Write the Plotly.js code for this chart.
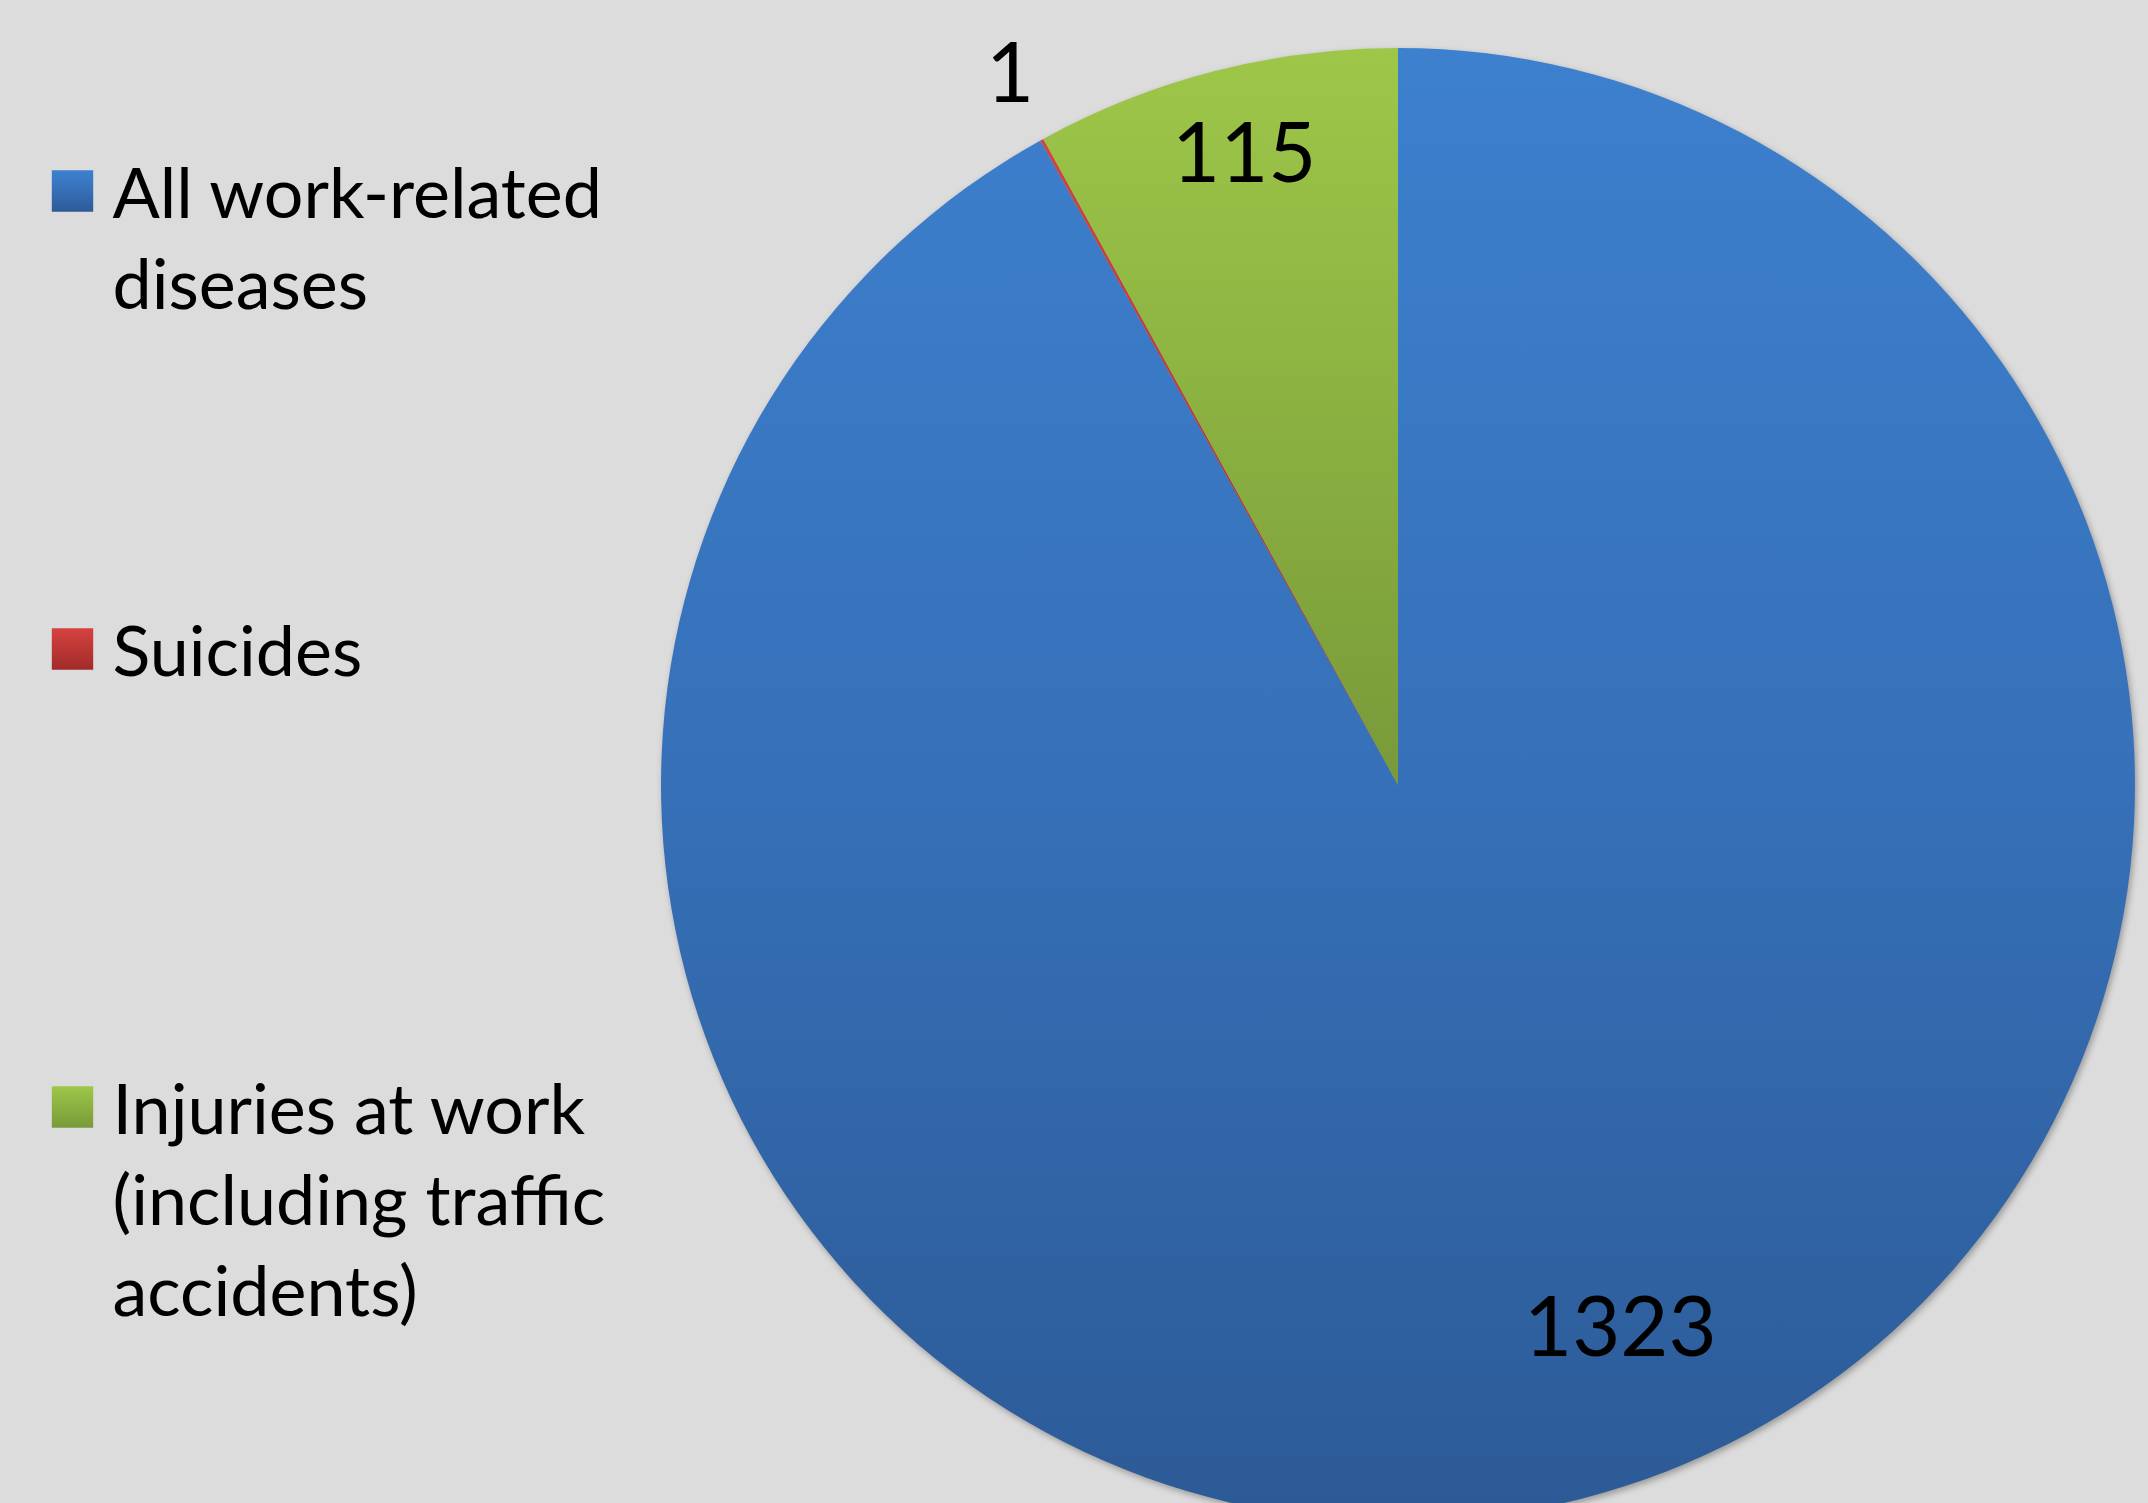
<!DOCTYPE html>
<html>
<head>
<meta charset="utf-8">
<script src="https://cdn.plot.ly/plotly-3.0.1.min.js"></script>
<style>
  html, body { margin: 0; padding: 0; overflow: hidden; background: #dcdcdc; }
  #chart { width: 2148px; height: 1530px; }
  .pielayer { filter: drop-shadow(2px 3px 3px rgba(0,0,0,0.30)); }
</style>
</head>
<body>
<div id="chart"></div>
<script>
// ---- data ----
const categories = ['All work-related<br>diseases', 'Suicides', 'Injuries at work<br>(including traffic<br>accidents)'];
const values = [1323, 1, 115];
const baseColors = ['#3673bb', '#c0393a', '#8cb141'];
const gradientStops = [
  [['0%', '#3d80ce'], ['50%', '#3670b8'], ['100%', '#2c5a96']],
  [['0%', '#d6423f'], ['100%', '#a02b29']],
  [['0%', '#9ec749'], ['100%', '#789a39']]
];

// ---- label styling (radial distance as fraction of radius, pixel nudges) ----
const labelRadius = [0.80, 1.10, 0.88];
const labelShift = [[75, 32], [4, 5], [7, 7]];

// legend items share equal height (5 text lines each)
const LINES_PER_ITEM = 5;
const legendLabels = categories.map(function (c, idx) {
  const n = c.split('<br>').length;
  let s = c;
  if (idx < categories.length - 1) {
    for (let k = n; k < LINES_PER_ITEM; k++) s += '<br>\u00a0';
  }
  return s;
});

const FONT = 'Lato, "Open Sans", sans-serif';
const H = 1530;

// value labels placed at each slice's mid-angle (clockwise from 12 o'clock)
const total = values.reduce(function (a, b) { return a + b; }, 0);
let cum = 0;
const annotations = values.map(function (v, i) {
  const mid = (cum + v / 2) / total * 2 * Math.PI;
  cum += v;
  return {
    xref: 'paper', yref: 'paper',
    x: 0.5 + 0.5 * labelRadius[i] * Math.sin(mid),
    y: 0.5 + 0.5 * labelRadius[i] * Math.cos(mid),
    xshift: labelShift[i][0], yshift: labelShift[i][1],
    xanchor: 'center', yanchor: 'middle',
    text: String(v),
    showarrow: false,
    font: { family: FONT, size: 83, color: '#000000' }
  };
});

const trace = {
  type: 'pie',
  labels: legendLabels,
  values: values,
  sort: false,
  direction: 'clockwise',
  rotation: 0,
  marker: { colors: baseColors, line: { width: 0 } },
  textinfo: 'none',
  automargin: false,
  hoverinfo: 'none'
};

const layout = {
  width: 2148,
  height: H,
  paper_bgcolor: '#dcdcdc',
  plot_bgcolor: '#dcdcdc',
  margin: { l: 661, r: 13, t: 48, b: H - 48 - 1474, autoexpand: false },
  showlegend: true,
  legend: {
    xref: 'container', yref: 'container',
    x: 32.5 / 2148, y: 1 - 139 / H,
    xanchor: 'left', yanchor: 'top',
    valign: 'top',
    itemwidth: 70,
    maxheight: 1450,
    bgcolor: 'rgba(0,0,0,0)',
    borderwidth: 0,
    font: { family: FONT, size: 70, color: '#000000' },
    itemclick: false, itemdoubleclick: false
  },
  annotations: annotations,
  font: { family: FONT, color: '#000000' }
};

const gd = document.getElementById('chart');
Plotly.newPlot(gd, [trace], layout, { displayModeBar: false, staticPlot: true }).then(function () {
  const NS = 'http://www.w3.org/2000/svg';
  const svg = gd.querySelector('svg.main-svg');
  let defs = svg.querySelector('defs');
  if (!defs) { defs = document.createElementNS(NS, 'defs'); svg.insertBefore(defs, svg.firstChild); }
  gradientStops.forEach(function (stops, i) {
    const g = document.createElementNS(NS, 'linearGradient');
    g.setAttribute('id', 'sliceGrad' + i);
    g.setAttribute('x1', '0'); g.setAttribute('y1', '0');
    g.setAttribute('x2', '0'); g.setAttribute('y2', '1');
    stops.forEach(function (s) {
      const st = document.createElementNS(NS, 'stop');
      st.setAttribute('offset', s[0]);
      st.setAttribute('stop-color', s[1]);
      g.appendChild(st);
    });
    defs.appendChild(g);
  });
  gd.querySelectorAll('.pielayer .slice').forEach(function (sl, k) {
    const d = sl.__data__;
    const i = (d && typeof d.i === 'number') ? d.i : k;
    const p = sl.querySelector('path.surface');
    if (p) p.style.fill = 'url(#sliceGrad' + i + ')';
  });
  gd.querySelectorAll('.legend .traces').forEach(function (tr, k) {
    const d = tr.__data__;
    const i = (d && d[0] && typeof d[0].i === 'number') ? d[0].i : k;
    tr.querySelectorAll('path.legendpie').forEach(function (p) {
      p.style.fill = 'url(#sliceGrad' + i + ')';
      const t = p.getAttribute('transform') || '';
      p.setAttribute('transform', t + ' scale(3.45)');
      p.style.strokeWidth = '0';
    });
  });
});
</script>
</body>
</html>
